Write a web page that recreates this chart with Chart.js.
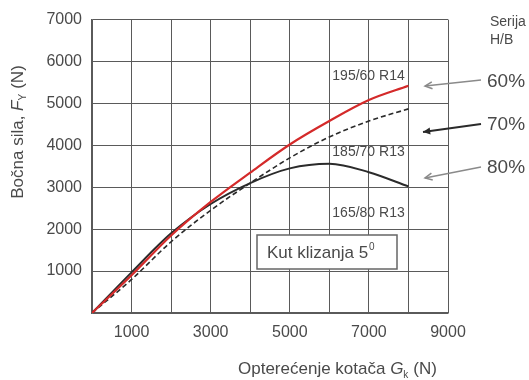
<!DOCTYPE html>
<html>
<head>
<meta charset="utf-8">
<script src="https://cdn.jsdelivr.net/npm/chart.js@4"></script>
<style>
  html, body { margin: 0; padding: 0; background: #fff; }
  #wrap { width: 529px; height: 380px; }
</style>
</head>
<body>
<div id="wrap"><canvas id="chart" width="529" height="380"></canvas></div>
<script>
// Lateral force vs wheel load, slip angle 5 deg
const loads = [0, 1000, 2000, 3000, 4000, 5000, 6000, 7000, 8000];
const tyre60 = [0, 900, 1850, 2650, 3350, 4020, 4580, 5080, 5420]; // 195/60 R14
const tyre70 = [0, 800, 1700, 2450, 3100, 3700, 4200, 4580, 4870]; // 185/70 R13
const tyre80 = [0, 970, 1900, 2600, 3100, 3450, 3560, 3360, 3020]; // 165/80 R13
const xLabels = [1000, 3000, 5000, 7000, 9000];
const tyreNames = ['195/60 R14', '185/70 R13', '165/80 R13'];
const series = ['60%', '70%', '80%'];

const FONT = '"Liberation Sans", Arial, sans-serif';
const TXT = '#4a4a4a';
const GRID = '#5a5a5a';

function pts(ys) { return loads.map((x, i) => ({ x: x, y: ys[i] })); }

function arrow(ctx, x1, y1, x2, y2, color, filled) {
  const a = Math.atan2(y2 - y1, x2 - x1);
  const L = 8, W = 0.45;
  ctx.save();
  ctx.strokeStyle = color; ctx.fillStyle = color; ctx.lineWidth = filled ? 2 : 1.5;
  ctx.beginPath(); ctx.moveTo(x1, y1); ctx.lineTo(x2, y2); ctx.stroke();
  ctx.beginPath();
  ctx.moveTo(x2 - L * Math.cos(a - W), y2 - L * Math.sin(a - W));
  ctx.lineTo(x2, y2);
  ctx.lineTo(x2 - L * Math.cos(a + W), y2 - L * Math.sin(a + W));
  if (filled) { ctx.closePath(); ctx.fill(); } else { ctx.stroke(); }
  ctx.restore();
}

const extras = {
  id: 'extras',
  afterDatasetsDraw(chart) {
    const ctx = chart.ctx;
    const xs = chart.scales.x, ys = chart.scales.y;
    ctx.save();
    ctx.fillStyle = TXT;
    ctx.textBaseline = 'middle';

    // curve labels
    ctx.font = '14px ' + FONT;
    ctx.textAlign = 'left';
    const lx = xs.getPixelForValue(6000) + 3;
    ctx.fillText(tyreNames[0], lx, ys.getPixelForValue(5650));
    ctx.fillText(tyreNames[1], lx, ys.getPixelForValue(3830));
    ctx.fillText(tyreNames[2], lx, ys.getPixelForValue(2390));

    // slip angle box
    const bx = 257, by = 235, bw = 140, bh = 34;
    ctx.fillStyle = '#fff';
    ctx.fillRect(bx, by, bw, bh);
    ctx.strokeStyle = '#666'; ctx.lineWidth = 1.5;
    ctx.strokeRect(bx, by, bw, bh);
    ctx.fillStyle = TXT;
    ctx.font = '17px ' + FONT;
    const t = 'Kut klizanja 5';
    ctx.fillText(t, bx + 10, by + bh / 2 + 1);
    const tw = ctx.measureText(t).width;
    ctx.font = '10px ' + FONT;
    ctx.fillText('0', bx + 11 + tw, by + bh / 2 - 5);

    // series legend on the right
    ctx.font = '14px ' + FONT;
    ctx.fillText('Serija', 490, 22);
    ctx.fillText('H/B', 490, 40);
    ctx.font = '19px ' + FONT;
    ctx.fillText(series[0], 487, 82);
    ctx.fillText(series[1], 487, 125);
    ctx.fillText(series[2], 487, 168);
    arrow(ctx, 481, 80, 425, 86, '#8a8a8a', false);
    arrow(ctx, 481, 124, 423, 132, '#2a2a2a', true);
    arrow(ctx, 481, 167, 425, 178, '#8a8a8a', false);

    // x title
    ctx.font = '17px ' + FONT;
    ctx.textAlign = 'left';
    let x0 = 238;
    const pre = 'Opterećenje kotača ';
    ctx.fillText(pre, x0, 369);
    x0 += ctx.measureText(pre).width;
    ctx.font = 'italic 17px ' + FONT;
    ctx.fillText('G', x0, 369);
    x0 += ctx.measureText('G').width;
    ctx.font = '10px ' + FONT;
    ctx.fillText('k', x0, 375);
    x0 += ctx.measureText('k').width + 5;
    ctx.font = '17px ' + FONT;
    ctx.fillText('(N)', x0, 369);

    // y title
    ctx.translate(18, 132);
    ctx.rotate(-Math.PI / 2);
    ctx.textAlign = 'left';
    const p1 = 'Bočna sila, ';
    ctx.font = '17px ' + FONT;
    const w1 = ctx.measureText(p1).width;
    ctx.font = 'italic 17px ' + FONT;
    const w2 = ctx.measureText('F').width;
    ctx.font = '17px ' + FONT;
    const w3 = ctx.measureText(' (N)').width;
    let yx = -(w1 + w2 + 7 + w3) / 2;
    ctx.fillText(p1, yx, 0); yx += w1;
    ctx.font = 'italic 17px ' + FONT;
    ctx.fillText('F', yx, 0); yx += w2;
    ctx.font = '10px ' + FONT;
    ctx.fillText('Y', yx, 5); yx += 7;
    ctx.font = '17px ' + FONT;
    ctx.fillText(' (N)', yx, 0);
    ctx.restore();
  }
};

new Chart(document.getElementById('chart'), {
  type: 'line',
  data: {
    datasets: [
      { label: series[0], data: pts(tyre60), borderColor: '#d42a2a', borderWidth: 2.2 },
      { label: series[1], data: pts(tyre70), borderColor: '#2b2b2b', borderWidth: 1.6, borderDash: [5, 3] },
      { label: series[2], data: pts(tyre80), borderColor: '#2b2b2b', borderWidth: 2 }
    ]
  },
  options: {
    responsive: false,
    animation: false,
    elements: {
      point: { radius: 0 },
      line: { tension: 0.4, cubicInterpolationMode: 'monotone', fill: false }
    },
    layout: { padding: { top: 18, right: 81, left: 0, bottom: 0 } },
    plugins: { legend: { display: false }, tooltip: { enabled: false } },
    scales: {
      x: {
        type: 'linear', min: 0, max: 9000,
        afterFit: s => { s.height = 67; },
        afterBuildTicks: s => { s.ticks = loads.concat([9000]).map(v => ({ value: v })); },
        ticks: {
          padding: 10, color: TXT, font: { family: FONT, size: 16 },
          maxRotation: 0, minRotation: 0, autoSkip: false,
          callback: v => xLabels.includes(v) ? String(v) : ''
        },
        grid: { color: GRID, lineWidth: 1, drawTicks: false },
        border: { color: GRID, width: 1.5 }
      },
      y: {
        min: 0, max: 7000,
        afterFit: s => { s.width = 92; },
        ticks: {
          stepSize: 1000, padding: 10, color: TXT, font: { family: FONT, size: 16 },
          callback: v => v === 0 ? '' : String(v)
        },
        grid: { color: GRID, lineWidth: 1, drawTicks: false },
        border: { color: GRID, width: 1.5 }
      }
    }
  },
  plugins: [extras]
});
</script>
</body>
</html>
